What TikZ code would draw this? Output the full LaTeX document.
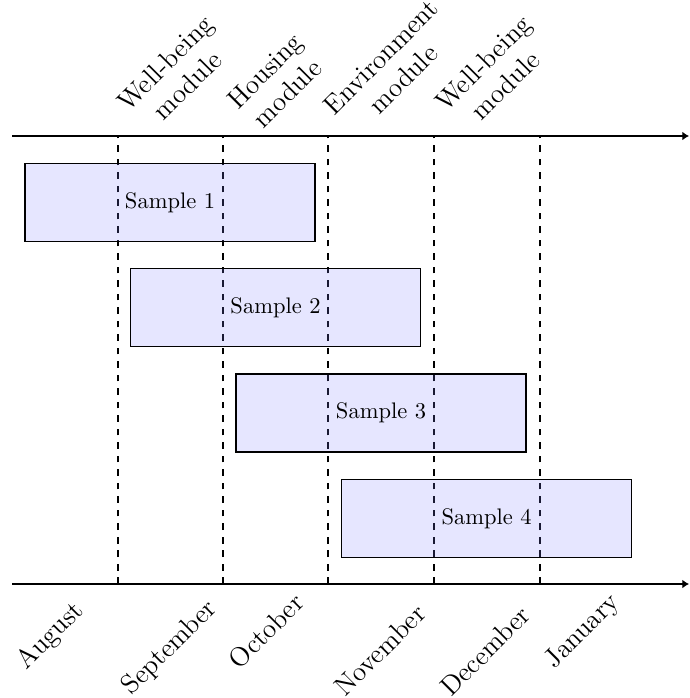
\documentclass[tikz,border=0pt]{standalone}
\usepackage{tikz}
\usetikzlibrary{arrows.meta}
\tikzset{
    samplebox/.style={rectangle, draw=black, semithick, fill=blue!50, fill opacity=0.2, text opacity=1, minimum width=128.9pt, minimum height=34.7pt, inner sep=0pt},
    timeline/.style={-{Latex[length=3pt, width=4pt]}, thick, draw=black},
    monthline/.style={dashed, semithick, draw=black},
    monthlabel/.style={rotate=45, anchor=center, inner sep=1pt, font=\large},
    modulelabel/.style={rotate=45, anchor=center, align=center, inner sep=1pt, font=\large}
}

\begin{document}
\begin{tikzpicture}[x=0.4444pt, y=-0.4444pt]
    \useasboundingbox (0,0) rectangle (689,698);
    % axes
    \coordinate (topleft) at (12,136);
    \coordinate (topright) at (689,136);
    \coordinate (botleft) at (12,584);
    \coordinate (botright) at (689,584);
    % month boundaries
    \foreach \i/\x in {1/118, 2/223, 3/328, 4/434, 5/540} {
        \coordinate (up\i) at (\x,136);
        \coordinate (down\i) at (\x,584);
        \draw[monthline] (down\i) -- (up\i);
    }
    \draw[timeline] (topleft) -- (topright);
    \draw[timeline] (botleft) -- (botright);
    % samples
    \node[samplebox] (sample1) at (170,202.5) {Sample 1};
    \node[samplebox] (sample2) at (275.5,307.5) {Sample 2};
    \node[samplebox] (sample3) at (381,413) {Sample 3};
    \node[samplebox] (sample4) at (486.5,518.5) {Sample 4};
    % modules
    \node[modulelabel] (mod1) at (176,74) {Well-being\\module};
    \node[modulelabel] (mod2) at (276,82) {Housing\\module};
    \node[modulelabel] (mod3) at (392,68) {Environment\\module};
    \node[modulelabel] (mod4) at (494,74) {Well-being\\module};
    % months
    \node[monthlabel] (aug) at (51,636) {August};
    \node[monthlabel] (sep) at (170,648) {September};
    \node[monthlabel] (oct) at (266,631) {October};
    \node[monthlabel] (nov) at (380,650) {November};
    \node[monthlabel] (dec) at (485,651) {December};
    \node[monthlabel] (jan) at (583,632) {January};
\end{tikzpicture}
\end{document}
